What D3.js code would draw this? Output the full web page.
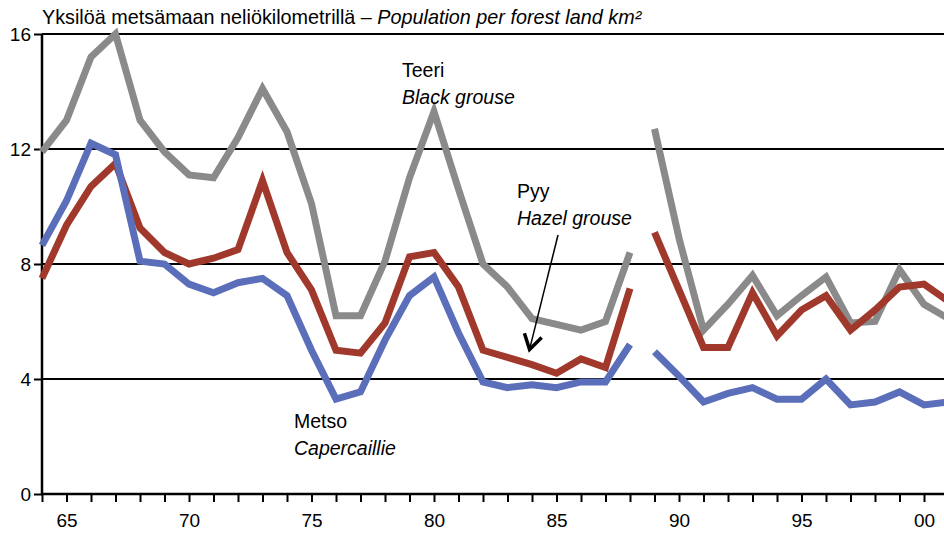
<!DOCTYPE html>
<html><head><meta charset="utf-8">
<script src="https://cdn.jsdelivr.net/npm/d3@7/dist/d3.min.js"></script>
<style>body{margin:0;background:#fff}svg{display:block;font-family:"Liberation Sans",Arial,sans-serif}</style>
</head><body><svg id="c" width="944" height="534"></svg>
<script>
const years = d3.range(1964, 2002);
const teeri = [11.9,13.0,15.2,16.0,13.0,11.9,11.1,11.0,12.4,14.1,12.6,10.1,6.2,6.2,8.1,11.0,13.3,10.6,8.0,7.2,6.1,5.9,5.7,6.0,8.4,
               12.7,8.9,5.7,6.6,7.6,6.2,6.9,7.55,5.95,6.0,7.8,6.6,6.1];
const pyy = [7.5,9.35,10.7,11.5,9.25,8.4,8.0,8.2,8.5,10.9,8.4,7.1,5.0,4.9,5.95,8.25,8.4,7.2,5.0,4.75,4.5,4.2,4.7,4.4,7.15,
             9.1,7.1,5.1,5.1,7.0,5.5,6.4,6.9,5.7,6.4,7.2,7.3,6.7];
const metso = [8.65,10.2,12.2,11.8,8.1,8.0,7.3,7.0,7.35,7.5,6.9,5.0,3.3,3.55,5.35,6.9,7.55,5.6,3.9,3.7,3.8,3.7,3.9,3.9,5.2,
               4.95,4.1,3.2,3.5,3.7,3.3,3.3,4.0,3.1,3.2,3.55,3.1,3.2];
const yTicks = [0,4,8,12,16];
const xLabelYears = [1965,1970,1975,1980,1985,1990,1995,2000];
const seriesNames = [["Teeri","Black grouse"],["Pyy","Hazel grouse"],["Metso","Capercaillie"]];
const colors = ["#8a8a8a","#a0392b","#5b6eb9"];
const gapAfter = 1988;

const svg = d3.select("#c");
const x = d3.scaleLinear().domain([1964, 2001]).range([42, 948.5]);
const y = d3.scaleLinear().domain([0, 16]).range([494, 34]);

// gridlines
svg.append("g").selectAll("line").data(yTicks.filter(d=>d>0)).join("line")
  .attr("x1", 42).attr("x2", 944).attr("y1", d=>y(d)).attr("y2", d=>y(d))
  .attr("stroke", "#000").attr("stroke-width", d=>d===16?2.2:2);

// title
const t = svg.append("text").attr("x", 42).attr("y", 24).attr("font-size", 19.8).attr("fill","#000");
t.append("tspan").text("Yksilöä metsämaan neliökilometrillä – ");
t.append("tspan").attr("font-style","italic").text("Population per forest land km²");

// y axis
const ya = svg.append("g").attr("transform","translate(42,0)")
  .call(d3.axisLeft(y).tickValues(yTicks).tickSize(8).tickSizeOuter(0).tickPadding(3));
ya.select(".domain").attr("stroke-width",2.5).attr("d", `M0,${y(16)}V${y(0)+1}`);
ya.selectAll(".tick line").attr("stroke-width",2);
ya.selectAll("text").attr("font-size",19).attr("font-family","Liberation Sans, Arial, sans-serif").attr("dy","0.36em");

// x axis
const xa = svg.append("g").attr("transform",`translate(0,${y(0)})`)
  .call(d3.axisBottom(x).tickValues(years).tickSize(8).tickSizeOuter(0)
    .tickFormat(d => xLabelYears.includes(d) ? String(d%100).padStart(2,"0") : ""));
xa.select(".domain").attr("stroke-width",2.5).attr("d","M41,0H944");
xa.selectAll(".tick line").attr("stroke-width",2);
xa.selectAll("text").attr("font-size",19).attr("font-family","Liberation Sans, Arial, sans-serif").attr("dy","1.15em");

// lines
[teeri, pyy, metso].forEach((s, k) => {
  const segs = [years.filter(yr=>yr<=gapAfter), years.filter(yr=>yr>gapAfter)];
  segs.forEach(seg => {
    const pts = seg.map(yr => [x(yr), y(s[yr-1964])]);
    svg.append("path").attr("d", d3.line()(pts)).attr("fill","none")
      .attr("stroke", colors[k]).attr("stroke-width", 7).attr("stroke-linejoin","miter");
  });
});

// labels
const labelPos = [[402,77],[517,198],[294,428]];
seriesNames.forEach((n,k)=>{
  const g = svg.append("text").attr("font-size",19.5).attr("fill","#000");
  g.append("tspan").attr("x",labelPos[k][0]).attr("y",labelPos[k][1]).text(n[0]);
  g.append("tspan").attr("x",labelPos[k][0]).attr("y",labelPos[k][1]+27).attr("font-style","italic").text(n[1]);
});

// arrow for Pyy
const ax1 = 558, ay1 = 235, ax2 = x(1983.9), ay2 = y(pyy[1983-1964]) - 8;
svg.append("line").attr("x1",ax1).attr("y1",ay1).attr("x2",ax2).attr("y2",ay2).attr("stroke","#000").attr("stroke-width",1.5);
const ang = Math.atan2(ay2-ay1, ax2-ax1);
const hl = 17, ha = 0.55;
svg.append("path").attr("d",
  `M${ax2-hl*Math.cos(ang-ha)},${ay2-hl*Math.sin(ang-ha)}L${ax2},${ay2}L${ax2-hl*Math.cos(ang+ha)},${ay2-hl*Math.sin(ang+ha)}`)
  .attr("fill","none").attr("stroke","#000").attr("stroke-width",3.5);
</script></body></html>
